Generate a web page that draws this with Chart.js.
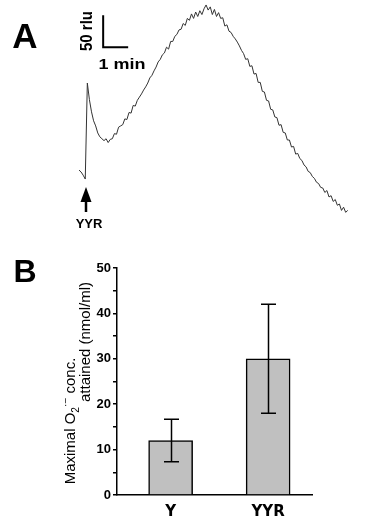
<!DOCTYPE html>
<html>
<head>
<meta charset="utf-8">
<script src="https://cdn.jsdelivr.net/npm/chart.js@4.4.1/dist/chart.umd.min.js"></script>
<style>
  html, body { margin: 0; padding: 0; background: #fff; }
  #fig { position: relative; width: 368px; height: 525px; overflow: hidden; font-family: "Liberation Sans", Arial, sans-serif; color: #000; }
  #fig canvas { position: absolute; left: 0; }
  .lbl { position: absolute; white-space: nowrap; line-height: 1; transform-origin: center center; }
  .lbl sub, .lbl sup { font-size: 0.68em; line-height: 0; }
</style>
</head>
<body>
<div id="fig">
  <canvas id="traceChart" width="368" height="240" style="top:0"></canvas>
  <canvas id="barChart" width="368" height="285" style="top:240px"></canvas>

  <div class="lbl" style="left:25px;top:35px;font-size:35px;font-weight:bold;transform:translate(-50%,-50%)">A</div>
  <div class="lbl" style="left:86px;top:31px;font-size:15px;font-weight:bold;transform:translate(-50%,-50%) rotate(-90deg) scaleY(1.1)">50 rlu</div>
  <div class="lbl" style="left:121.5px;top:63px;font-size:15px;font-weight:bold;transform:translate(-50%,-50%) scaleX(1.2)">1 min</div>
  <div class="lbl" style="left:89px;top:222.5px;font-size:13px;font-weight:bold;transform:translate(-50%,-50%)">YYR</div>

  <div class="lbl" style="left:25px;top:271px;font-size:32px;font-weight:bold;transform:translate(-50%,-50%)">B</div>
  <div class="lbl" style="left:68.5px;top:421px;font-size:15px;transform:translate(-50%,-50%) rotate(-90deg)">Maximal O<sub>2</sub><sup>·−</sup> conc.</div>
  <div class="lbl" style="left:84px;top:342px;font-size:15px;transform:translate(-50%,-50%) rotate(-90deg)">attained (nmol/ml)</div>
</div>
<script>
// panel A: chemiluminescence trace after YYR addition
const timeSec = [
  0, 5, 10, 15, 20, 25, 30, 35, 40, 45,
  50, 55, 60, 65, 70, 75, 80, 85, 90, 95,
  100, 105, 110, 115, 120, 125, 130, 135, 140, 145,
  150, 155, 160, 165, 170, 175, 180, 185, 190, 195,
  200, 205, 210, 215, 220, 225, 230, 235, 240, 245,
  250, 255, 260, 265, 270, 275, 280, 285, 290, 295,
  300, 305, 310, 315, 320, 325, 330, 335, 340, 345,
  350, 355, 360, 365, 370, 375, 380, 385, 390, 395,
  400, 405, 410, 415, 420, 425, 430, 435, 440, 445,
  450, 455, 460, 465, 470, 475, 480, 485, 490, 495,
  500, 505, 510, 515, 520, 525, 530, 535, 540, 545,
  550, 555, 560, 565, 570, 575, 580, 585, 590, 595,
  600, 605, 610, 615, 620, 625, 630, 635, 640, 645
];
const signalRlu = [
  78, 75, 70, 64, 214, 188, 169, 155, 147, 136,
  130, 127, 124, 127, 121, 126, 127, 135, 134, 145,
  147, 149, 158, 157, 168, 167, 179, 178, 187, 192,
  197, 203, 208, 214, 222, 226, 233, 239, 247, 251,
  258, 261, 270, 267, 279, 279, 287, 290, 297, 298,
  307, 304, 315, 312, 322, 315, 325, 318, 327, 321,
  330, 336, 328, 333, 321, 329, 318, 324, 315, 316,
  303, 305, 295, 293, 287, 283, 278, 272, 265, 260,
  251, 252, 240, 241, 228, 229, 215, 215, 201, 200,
  187, 186, 173, 172, 161, 160, 148, 149, 137, 136,
  125, 125, 114, 115, 103, 104, 96, 93, 86, 83,
  76, 74, 68, 65, 59, 57, 51, 50, 43, 46,
  36, 38, 29, 32, 23, 25, 15, 20, 12, 15
];
const additionTime = 17;          // s, YYR added
const scaleBarTime = [58, 118];   // 1 min
const scaleBarRlu = [270, 320];   // 50 rlu

// panel B: maximal O2- concentration
const groups = ['Y', 'YYR'];
const groupPos = [1, 2];
const meanConc = [12, 30];
const errConc = [4.7, 12];

const arrowPlugin = {
  id: 'yyrArrow',
  afterDraw(chart) {
    const ctx = chart.ctx;
    const x = Math.round(chart.scales.x.getPixelForValue(additionTime));
    ctx.save();
    ctx.fillStyle = '#000';
    ctx.strokeStyle = '#000';
    ctx.lineWidth = 2.5;
    ctx.beginPath();
    ctx.moveTo(x, 199);
    ctx.lineTo(x, 212);
    ctx.stroke();
    ctx.beginPath();
    ctx.moveTo(x, 187);
    ctx.lineTo(x - 5.5, 202);
    ctx.lineTo(x + 5.5, 202);
    ctx.closePath();
    ctx.fill();
    ctx.restore();
  }
};

new Chart(document.getElementById('traceChart'), {
  type: 'line',
  data: {
    datasets: [
      {
        data: timeSec.map((t, i) => ({ x: t, y: signalRlu[i] })),
        borderColor: '#333',
        borderWidth: 1,
        pointRadius: 0,
        tension: 0
      },
      {
        // scale bar
        data: [
          { x: scaleBarTime[1], y: scaleBarRlu[0] },
          { x: scaleBarTime[0], y: scaleBarRlu[0] },
          { x: scaleBarTime[0], y: scaleBarRlu[1] }
        ],
        borderColor: '#000',
        borderWidth: 2,
        pointRadius: 0,
        tension: 0
      }
    ]
  },
  options: {
    responsive: false,
    animation: false,
    devicePixelRatio: 1,
    layout: { padding: 0 },
    plugins: { legend: { display: false }, tooltip: { enabled: false } },
    scales: {
      x: { type: 'linear', display: false, min: -189.6, max: 693.6 },
      y: { type: 'linear', display: false, min: -31.25, max: 343.75 }
    }
  },
  plugins: [arrowPlugin]
});

const errorBarPlugin = {
  id: 'errorBars',
  afterDatasetsDraw(chart) {
    const ctx = chart.ctx;
    const xs = chart.scales.x, ys = chart.scales.y;
    ctx.save();
    ctx.strokeStyle = '#000';
    ctx.lineWidth = 1.5;
    groupPos.forEach((g, i) => {
      const x = Math.round(xs.getPixelForValue(g)) + 0.5;
      const top = ys.getPixelForValue(meanConc[i] + errConc[i]);
      const bot = ys.getPixelForValue(meanConc[i] - errConc[i]);
      ctx.beginPath();
      ctx.moveTo(x, top); ctx.lineTo(x, bot);
      ctx.moveTo(x - 7.5, top); ctx.lineTo(x + 7.5, top);
      ctx.moveTo(x - 7.5, bot); ctx.lineTo(x + 7.5, bot);
      ctx.stroke();
    });
    ctx.restore();
  }
};

new Chart(document.getElementById('barChart'), {
  type: 'bar',
  data: {
    datasets: [{
      data: groupPos.map((g, i) => ({ x: g, y: meanConc[i] })),
      backgroundColor: '#c0c0c0',
      borderColor: '#000',
      borderWidth: 1.5,
      barThickness: 44
    }]
  },
  options: {
    responsive: false,
    animation: false,
    devicePixelRatio: 1,
    layout: { padding: { top: 28, right: 56, bottom: 0, left: 0 } },
    plugins: { legend: { display: false }, tooltip: { enabled: false } },
    scales: {
      x: {
        type: 'linear',
        min: 0.45,
        max: 2.45,
        offset: false,
        afterFit: (s) => { s.height = 30; },
        afterBuildTicks: (s) => { s.ticks = groupPos.map(v => ({ value: v })); },
        grid: { display: true, drawOnChartArea: false, drawTicks: false, offset: false },
        border: { display: true, color: '#000', width: 1.5 },
        ticks: {
          padding: 8,
          maxRotation: 0,
          autoSkip: false,
          color: '#000',
          font: { family: '"DejaVu Sans", Arial, sans-serif', size: 15, weight: 'bold' },
          callback: (v) => groups[groupPos.indexOf(v)]
        }
      },
      y: {
        min: 0,
        max: 50,
        afterFit: (s) => { s.width = 117; },
        grid: { drawOnChartArea: false, drawTicks: true, tickLength: 4, color: '#000', lineWidth: 1.5 },
        border: { display: true, color: '#000', width: 1.5 },
        ticks: {
          stepSize: 5,
          padding: 2,
          color: '#000',
          font: { family: '"Liberation Sans", Arial, sans-serif', size: 13, weight: 'bold' },
          callback: (v) => (v % 10 === 0 ? v : '')
        }
      }
    }
  },
  plugins: [errorBarPlugin]
});
</script>
</body>
</html>
